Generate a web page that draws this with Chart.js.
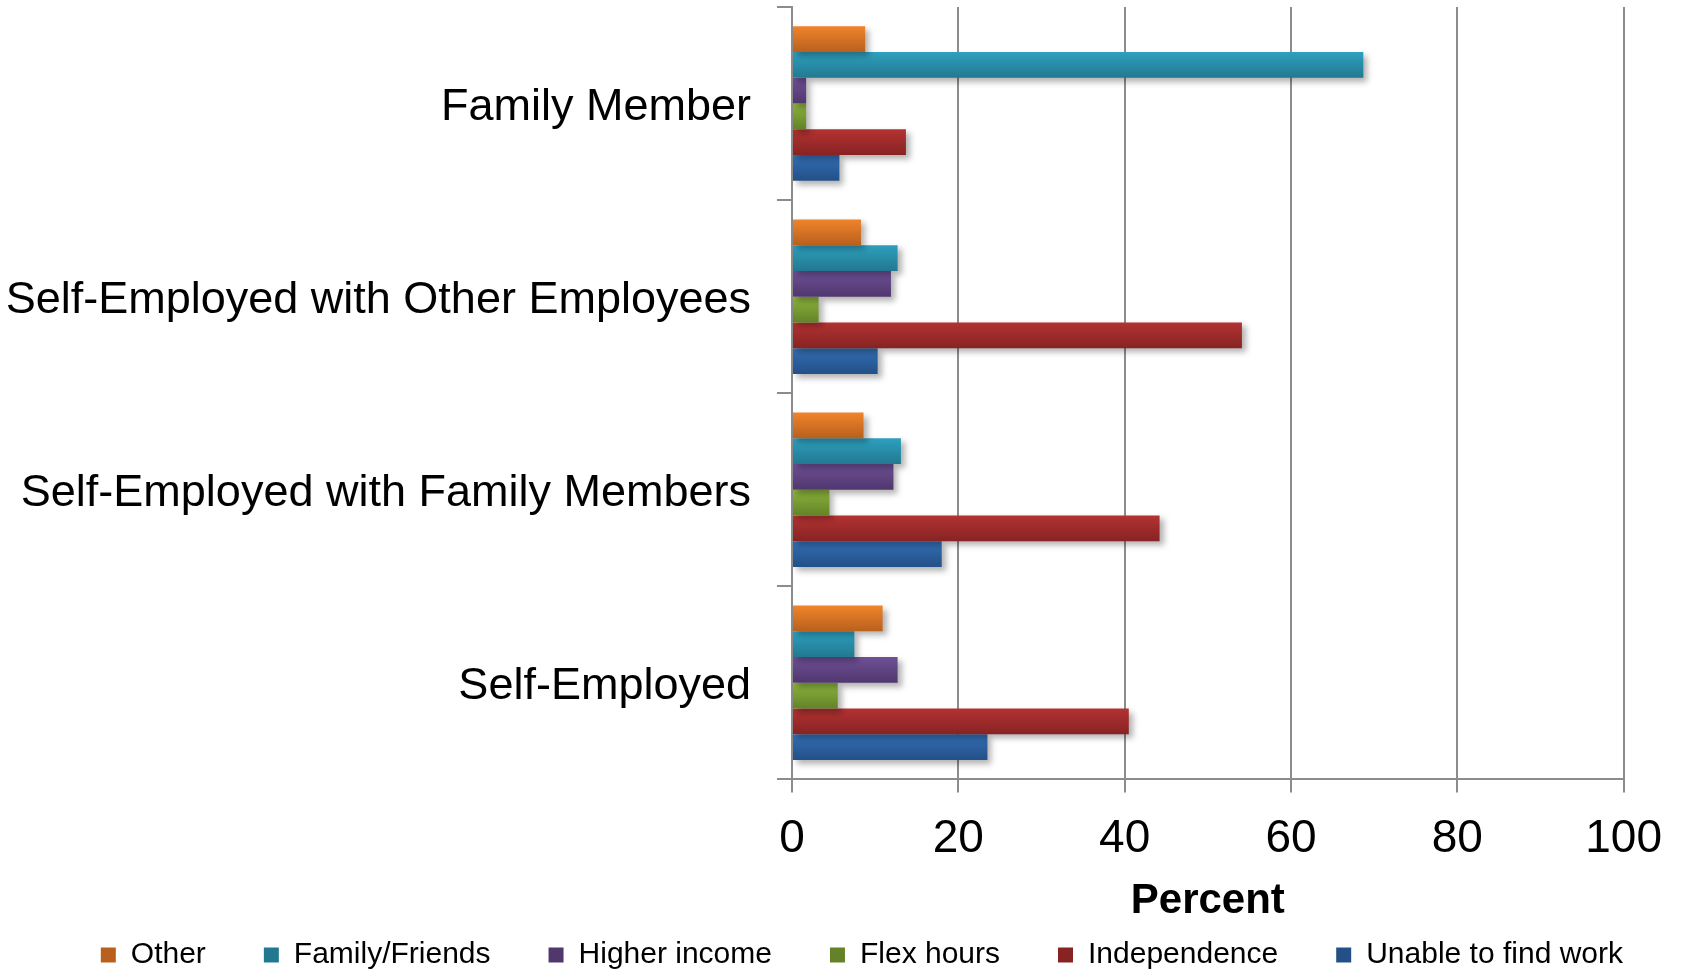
<!DOCTYPE html>
<html>
<head>
<meta charset="utf-8">
<script src="https://cdn.jsdelivr.net/npm/chart.js@4.4.1/dist/chart.umd.min.js"></script>
<style>
  html, body { margin: 0; padding: 0; background: #fff; }
</style>
</head>
<body>
<canvas id="chart" width="1681" height="970"></canvas>
<script>
// categories, top to bottom
const categories = [
  'Family Member',
  'Self-Employed with Other Employees',
  'Self-Employed with Family Members',
  'Self-Employed',
];

const seriesNames = ['Other', 'Family/Friends', 'Higher income', 'Flex hours', 'Independence', 'Unable to find work'];

// percent per category
const otherValues = [8.8, 8.3, 8.6, 10.9];
const familyFriendsValues = [68.7, 12.7, 13.1, 7.5];
const higherIncomeValues = [1.7, 11.9, 12.2, 12.7];
const flexHoursValues = [1.7, 3.2, 4.5, 5.5];
const independenceValues = [13.7, 54.1, 44.2, 40.5];
const unableValues = [5.7, 10.3, 18.0, 23.5];

const xTicks = [0, 20, 40, 60, 80, 100];

/* -----------------------------
   Colours (light top -> dark bottom)
------------------------------ */

const topColors = ['#f0842a', '#2da0be', '#6e5096', '#8cb43c', '#b43232', '#326eb4'];
const bottomColors = ['#b9601e', '#237891', '#50376e', '#648228', '#872323', '#235087'];
const solidColors = ['#d97325', '#288ca8', '#5f4482', '#7a9c34', '#a02b2b', '#2c5f9e'];

const GRID = '#8c8c8c';
const FONT = "'Liberation Sans', Arial, sans-serif";

function barFill(ctx) {
  const i = ctx.datasetIndex;
  const el = ctx.element;
  if (ctx.type !== 'data' || !el || !Number.isFinite(el.y) || !Number.isFinite(el.height)) {
    return solidColors[i];
  }
  const g = ctx.chart.ctx.createLinearGradient(0, el.y - el.height / 2, 0, el.y + el.height / 2);
  g.addColorStop(0, topColors[i]);
  g.addColorStop(1, bottomColors[i]);
  return g;
}

const seriesValues = [otherValues, familyFriendsValues, higherIncomeValues, flexHoursValues, independenceValues, unableValues];

const datasets = seriesNames.map((name, i) => ({
  label: name,
  data: seriesValues[i],
  backgroundColor: barFill,
  borderWidth: 0,
  categoryPercentage: 0.8,
  barPercentage: 1,
}));

const barShadow = {
  id: 'barShadow',
  beforeDatasetsDraw(chart) {
    const c = chart.ctx;
    c.save();
    c.shadowColor = 'rgba(0, 0, 0, 0.3)';
    c.shadowBlur = 6;
    c.shadowOffsetX = 4;
    c.shadowOffsetY = 4;
  },
  afterDatasetsDraw(chart) {
    chart.ctx.restore();
  },
};

const chart = new Chart(document.getElementById('chart'), {
  type: 'bar',
  data: { labels: categories, datasets },
  plugins: [barShadow],
  options: {
    indexAxis: 'y',
    responsive: false,
    animation: false,
    layout: { padding: { top: 7, left: 0, right: 0, bottom: 0 } },
    plugins: {
      tooltip: { enabled: false },
      legend: {
        position: 'bottom',
        align: 'end',
        maxHeight: 88,
        labels: {
          font: { family: FONT, size: 30 },
          color: '#000',
          boxWidth: 15,
          boxHeight: 15,
          padding: 58,
        },
      },
    },
    scales: {
      x: {
        min: 0,
        max: 100,
        afterBuildTicks: (scale) => {
          scale.ticks = xTicks.map((v) => ({ value: v }));
        },
        grid: { color: GRID, lineWidth: 2, tickLength: 13 },
        border: { color: GRID, width: 2 },
        ticks: { font: { family: FONT, size: 46 }, color: '#000', padding: 19, maxRotation: 0 },
        title: {
          display: true,
          text: 'Percent',
          color: '#000',
          font: { family: FONT, size: 42, weight: 'bold' },
          padding: { top: -9, bottom: -45 },
        },
      },
      y: {
        afterFit: (scale) => {
          // fixed label column; labels sit mid-band, no extra room above/below
          scale.width = 792;
          scale.paddingTop = 0;
          scale.paddingBottom = 0;
        },
        grid: { drawOnChartArea: false, color: GRID, lineWidth: 2, tickLength: 15 },
        border: { color: GRID, width: 2 },
        ticks: { font: { family: FONT, size: 45 }, color: '#000', padding: 26, labelOffset: 4 },
      },
    },
  },
});

// second pass so the bar gradients can use the laid out bar positions
chart.update('none');
</script>
</body>
</html>
